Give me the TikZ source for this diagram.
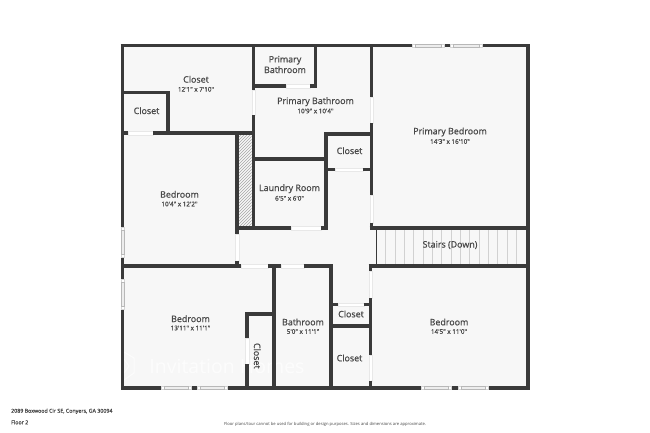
\documentclass[tikz,border=0pt]{standalone}
\usepackage{fontspec}
\setmainfont{Open Sans}
\newfontfamily\semifont[FakeBold=0.8]{Open Sans}
\usetikzlibrary{patterns}
\definecolor{wallc}{HTML}{3A3A3A}
\definecolor{floorc}{HTML}{F7F7F7}
\definecolor{txtc}{HTML}{484848}
\tikzset{
  wall/.style={draw=wallc,line width=3.6pt,line cap=butt},
  doorgap/.style={fill=white,draw=black!9,line width=0.3pt},
  winbox/.style={fill=white,draw=black!16,line width=0.3pt},
  wininner/.style={fill=black!7,draw=black!28,line width=0.35pt},
  roomname/.style={text=txtc,font=\fontsize{8.9}{10}\selectfont\semifont,align=center,inner sep=0pt},
  roomdim/.style={text=txtc,font=\fontsize{6.3}{8}\selectfont\semifont,inner sep=0pt},
  stairline/.style={draw=black!18,line width=0.4pt},
  foot/.style={text=txtc,inner sep=0pt,anchor=west},
}
\newcommand{\winH}[3]{\draw[winbox] (#1,#3-1.7) rectangle (#2,#3+1.7);\draw[wininner] (#1+3,#3-1.3) rectangle (#2-3,#3+1.3);}
\newcommand{\winV}[3]{\draw[winbox] (#3-1.7,#1) rectangle (#3+1.7,#2);\draw[wininner] (#3-1.3,#1+3) rectangle (#3+1.3,#2-3);}
\begin{document}
\begin{tikzpicture}[x=1pt,y=-1pt]
\useasboundingbox (0,0) rectangle (650,433);
\fill[white] (0,0) rectangle (650,433);
\fill[floorc] (122,45) rectangle (528,388);
% watermark
\draw[draw=white,line width=1pt,opacity=0.7] (124,352) -- (134,358) -- (134,373) -- (124,380) (124,359) -- (129,366) -- (124,373);
\node[text=white,inner sep=0pt,font=\fontsize{19.5}{22}\selectfont,opacity=0.7] (wm) at (227,366.5) {Invitation Homes};
% hatch
\fill[pattern=north east lines,pattern color=black!35] (238.7,134.7) rectangle (251.7,226);
% stairs
\foreach \i in {1,...,15} {\draw[stairline] (376+\i*9.35,230) -- (376+\i*9.35,264);}
\draw[wallc,line width=0.6pt] (376,230) -- (376,264);
% doors
\draw[doorgap] (251.7,90) rectangle (255.3,115.5);
\draw[doorgap] (369.7,97.3) rectangle (373.3,123.3);
\draw[doorgap] (369.7,195) rectangle (373.3,222.7);
\draw[doorgap] (368.7,271) rectangle (372.3,298.3);
\draw[doorgap] (368.7,355) rectangle (372.3,380.7);
\draw[doorgap] (235,233.7) rectangle (238.7,260.7);
\draw[doorgap] (245,338.3) rectangle (248.7,364.3);
\draw[doorgap] (128,131) rectangle (153.3,134.7);
\draw[doorgap] (285.7,84.3) rectangle (310,88);
\draw[doorgap] (291,226) rectangle (321,229.7);
\draw[doorgap] (335.3,167.7) rectangle (362.7,171.3);
\draw[doorgap] (241,264) rectangle (268.3,268);
\draw[doorgap] (281,264) rectangle (303.7,268);
\draw[doorgap] (337.7,302.7) rectangle (363.7,306.3);
% outer walls
\draw[wall] (120.7,45.5) -- (412.3,45.5) (444.3,45.5) -- (450,45.5) (481.7,45.5) -- (529.7,45.5);
\draw[wall] (527.8,45.5) -- (527.8,387.7);
\draw[wall] (529.7,387.7) -- (488.3,387.7) (457.7,387.7) -- (451,387.7) (420.7,387.7) -- (227.3,387.7) (197.3,387.7) -- (191,387.7) (160.7,387.7) -- (120.7,387.7);
\draw[wall] (122.4,389) -- (122.4,309.3) (122.4,279) -- (122.4,256.7) (122.4,227.3) -- (122.4,44);
% inner walls
\draw[wall] (253.5,45) -- (253.5,90) (253.5,115.5) -- (253.5,229);
\draw[wall] (253.5,86.2) -- (285.7,86.2) (310,86.2) -- (317.3,86.2);
\draw[wall] (315.5,45) -- (315.5,88);
\draw[wall] (122,92.5) -- (169.5,92.5);
\draw[wall] (167.7,92.5) -- (167.7,134);
\draw[wall] (122,132.8) -- (128,132.8) (153.3,132.8) -- (255,132.8);
\draw[wall] (236.8,132.8) -- (236.8,233.7) (236.8,260.7) -- (236.8,266);
\draw[wall] (235,227.8) -- (291,227.8) (321,227.8) -- (327.7,227.8);
\draw[wall] (325.8,132.3) -- (325.8,229.7);
\draw[wall] (253.5,159.2) -- (325.8,159.2);
\draw[wall] (324,134) -- (373,134);
\draw[wall] (371.5,45) -- (371.5,97.3) (371.5,123.3) -- (371.5,195) (371.5,222.7) -- (371.5,229.7);
\draw[wall] (369.7,228) -- (528,228);
\draw[wall] (325.8,169.5) -- (335.3,169.5) (362.7,169.5) -- (371.5,169.5);
\draw[wall] (122,266) -- (241,266) (268.3,266) -- (281,266) (303.7,266) -- (333,266);
\draw[wall] (274,266) -- (274,388);
\draw[wall] (331.2,264.2) -- (331.2,388);
\draw[wall] (245,313.8) -- (274,313.8);
\draw[wall] (246.8,312) -- (246.8,338.3) (246.8,364.3) -- (246.8,388);
\draw[wall] (331.2,304.5) -- (337.7,304.5) (363.7,304.5) -- (372,304.5);
\draw[wall] (331.2,326.2) -- (372,326.2);
\draw[wall] (370.5,264.3) -- (370.5,271) (370.5,298.3) -- (370.5,355) (370.5,380.7) -- (370.5,388);
\draw[wall] (368.7,266.2) -- (528,266.2);
% windows
\winH{412.3}{444.3}{45.5}\winH{450}{481.7}{45.5}
\winH{420.7}{451}{387.7}\winH{457.7}{488.3}{387.7}
\winH{160.7}{191}{387.7}\winH{197.3}{227.3}{387.7}
\winV{227.3}{256.7}{122.4}\winV{279}{309.3}{122.4}
% labels
\node[roomname] (n1) at (196,79.3) {Closet};
\node[roomdim] (d1) at (196,89.3) {12'1" x 7'10"};
\node[roomname] (n2) at (146.5,110.7) {Closet};
\node[roomname] (n3) at (285,64.5) {Primary\\[0.6pt]Bathroom};
\node[roomname] (n4) at (315.5,101.7) {Primary Bathroom};
\node[roomdim] (d4) at (315.5,111) {10'9" x 10'4"};
\node[roomname] (n5) at (349.5,150.7) {Closet};
\node[roomname] (n6) at (450,132) {Primary Bedroom};
\node[roomdim] (d6) at (450,141.5) {14'3" x 16'10"};
\node[roomname] (n7) at (179.5,194.3) {Bedroom};
\node[roomdim] (d7) at (179.5,204) {10'4" x 12'2"};
\node[roomname] (n8) at (289.5,188.7) {Laundry Room};
\node[roomdim] (d8) at (289.5,198.3) {6'5" x 6'0"};
\node[roomname] (n9) at (450,245) {Stairs (Down)};
\node[roomname] (n10) at (190.5,318.7) {Bedroom};
\node[roomdim] (d10) at (190.5,328) {13'11" x 11'1"};
\node[roomname] (n11) at (303,322) {Bathroom};
\node[roomdim] (d11) at (303,331.5) {5'0" x 11'1"};
\node[roomname,rotate=-90] (n12) at (257.3,355.8) {Closet};
\node[roomname] (n13) at (351,314) {Closet};
\node[roomname] (n14) at (349.5,358) {Closet};
\node[roomname] (n15) at (449,322) {Bedroom};
\node[roomdim] (d15) at (449,331.5) {14'5" x 11'0"};
\node[foot,font=\fontsize{5.3}{6}\selectfont\semifont] (f1) at (11,411.3) {2089 Boxwood Cir SE, Conyers, GA 30094};
\node[foot,font=\fontsize{5.3}{6}\selectfont\semifont] (f2) at (11,422.3) {Floor 2};
\node[foot,font=\fontsize{4.15}{5}\selectfont] (f3) at (224,424.3) {Floor plans/tour cannot be used for building or design purposes. Sizes and dimensions are approximate.};
\end{tikzpicture}
\end{document}
